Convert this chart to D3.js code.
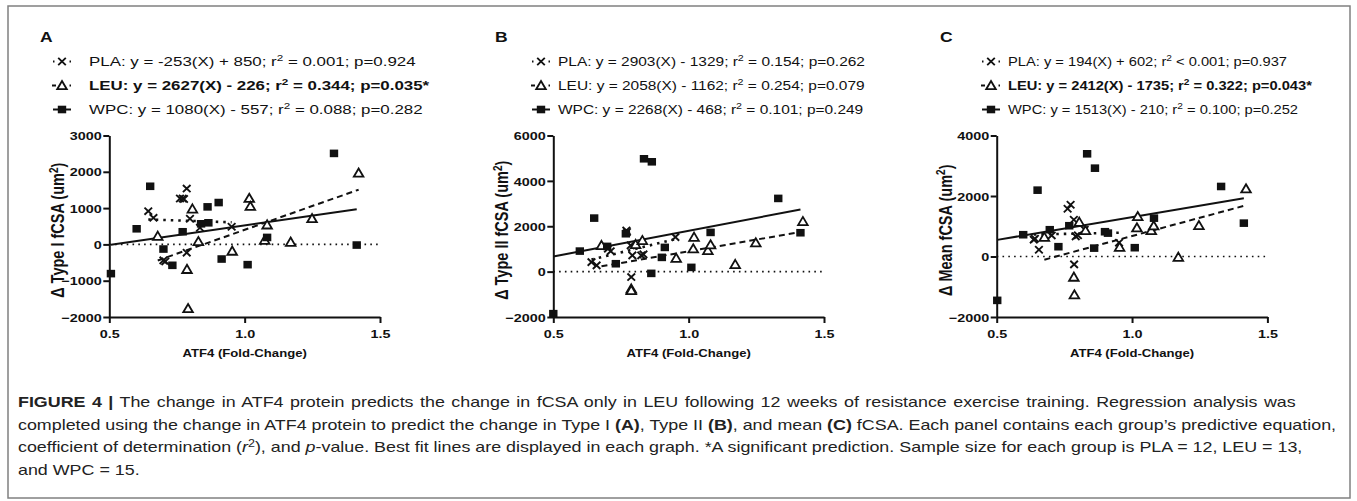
<!DOCTYPE html>
<html>
<head>
<meta charset="utf-8">
<script src="https://cdn.jsdelivr.net/npm/d3@7"></script>
<style>
  body { margin: 0; background: #fff; }
  svg { display: block; }
</style>
</head>
<body>
<div id="fig"></div>
<script>
const width = 1357;
const height = 501;

// ---- data ----
const groups = ["PLA", "LEU", "WPC"];
const panelLetters = ["A", "B", "C"];
const yLabelNames = ["\u0394 Type I fCSA (um", "\u0394 Type II fCSA (um", "\u0394 Mean fCSA (um"];
const xLabel = "ATF4 (Fold-Change)";
const xTicks = [0.5, 1.0, 1.5];
const yDomains = [[-2000, 3000], [-2000, 6000], [-2000, 4000]];
const yTicks = [
  [-2000, -1000, 0, 1000, 2000, 3000],
  [-2000, 0, 2000, 4000, 6000],
  [-2000, 0, 2000, 4000]
];

const plaA = [[0.644, 915], [0.663, 733], [0.700, -440], [0.707, -470], [0.761, 1264], [0.771, 1264],
  [0.776, 1250], [0.786, 1538], [0.786, -228], [0.798, 706], [0.835, 459], [0.952, 486]];
const leuA = [[0.679, 229], [0.787, -686], [0.791, -1766], [0.807, 979], [0.829, 82], [0.954, -183],
  [1.017, 1272], [1.021, 1052], [1.074, 119], [1.083, 540], [1.170, 64], [1.249, 714], [1.421, 1967]];
const wpcA = [[0.506, -805], [0.601, 430], [0.651, 1601], [0.700, -128], [0.733, -576], [0.771, 348],
  [0.839, 567], [0.863, 1034], [0.866, 595], [0.904, 1153], [0.915, -403], [1.011, -558], [1.083, 192],
  [1.330, 2507], [1.414, -18]];

const plaB = [[0.641, 420], [0.660, 275], [0.702, 1010], [0.712, 900], [0.770, 1816], [0.772, 1750],
  [0.786, 1156], [0.788, -240], [0.792, 716], [0.825, 716], [0.833, 760], [0.951, 1522]];
const leuB = [[0.678, 1156], [0.788, -760], [0.788, -826], [0.804, 1200], [0.829, 1376], [0.954, 597],
  [1.017, 1010], [1.020, 1522], [1.071, 936], [1.081, 1186], [1.172, 319], [1.248, 1275], [1.422, 2213]];
const wpcB = [[0.500, -1853], [0.598, 905], [0.651, 2359], [0.699, 1112], [0.731, 348], [0.768, 1670],
  [0.835, 4974], [0.862, -77], [0.864, 4841], [0.901, 628], [0.912, 1068], [1.010, 187], [1.081, 1729],
  [1.331, 3227], [1.413, 1714]];

const plaC = [[0.637, 555], [0.641, 588], [0.656, 224], [0.703, 697], [0.762, 1578], [0.773, 1710],
  [0.785, 1215], [0.786, -261], [0.792, 664], [0.800, 700], [0.825, 885], [0.952, 456]];
const leuC = [[0.676, 641], [0.785, -680], [0.787, -1262], [0.805, 1136], [0.828, 862], [0.954, 310],
  [1.018, 951], [1.021, 1324], [1.071, 862], [1.080, 1017], [1.171, -20], [1.247, 1027], [1.421, 2239]];
const wpcC = [[0.502, -1450], [0.598, 720], [0.651, 2193], [0.696, 885], [0.728, 324], [0.768, 1017],
  [0.834, 3395], [0.860, 277], [0.863, 2920], [0.900, 819], [0.911, 773], [1.010, 291], [1.081, 1268],
  [1.329, 2315], [1.413, 1103]];

// best fit lines as drawn: [slope, intercept] for PLA, LEU, WPC
const fitsA = [[-253, 850], [2627, -2226], [1080, -557]];
const fitsB = [[2903, -1329], [2058, -1162], [2268, -468]];
const fitsC = [[194, 602], [2412, -1735], [1513, -210]];

const legendA = ["PLA: y = -253(X) + 850; r^2 = 0.001; p=0.924",
  "LEU: y = 2627(X) - 226; r^2 = 0.344; p=0.035*",
  "WPC: y = 1080(X) - 557; r^2 = 0.088; p=0.282"];
const legendB = ["PLA: y = 2903(X) - 1329; r^2 = 0.154; p=0.262",
  "LEU: y = 2058(X) - 1162; r^2 = 0.254; p=0.079",
  "WPC: y = 2268(X) - 468; r^2 = 0.101; p=0.249"];
const legendC = ["PLA: y = 194(X) + 602; r^2 < 0.001; p=0.937",
  "LEU: y = 2412(X) - 1735; r^2 = 0.322; p=0.043*",
  "WPC: y = 1513(X) - 210; r^2 = 0.100; p=0.252"];
const legendBold = [[false, true, false], [false, false, false], [false, true, false]];

const captionLines = [
  [["FIGURE 4 |", "b"], [" The change in ATF4 protein predicts the change in fCSA only in LEU following 12 weeks of resistance exercise training. Regression analysis was", ""]],
  [["completed using the change in ATF4 protein to predict the change in Type I ", ""], ["(A)", "b"], [", Type II ", ""], ["(B)", "b"],
   [", and mean ", ""], ["(C)", "b"], [" fCSA. Each panel contains each group\u2019s predictive equation,", ""]],
  [["coefficient of determination (", ""], ["r", "i"], ["2", "sup"], ["), and ", ""], ["p", "i"],
   ["-value. Best fit lines are displayed in each graph. *A significant prediction. Sample size for each group is PLA = 12, LEU = 13,", ""]],
  [["and WPC = 15.", ""]]
];

const panels = [
  { series: [plaA, leuA, wpcA], fits: fitsA, legend: legendA },
  { series: [plaB, leuB, wpcB], fits: fitsB, legend: legendB },
  { series: [plaC, leuC, wpcC], fits: fitsC, legend: legendC }
];

// ---- layout ----
const SX = 1.25; // the reference figure is stretched horizontally
const legendSX = [1.30, 1.19, 1.13];
const font = "'Liberation Sans', Arial, sans-serif";
const plotTop = 135.5, plotBottom = 317;
const plotLeft = [109.3, 553.3, 996.7];
const plotWidth = 270.7;
const letterX = [40, 495, 940];
const legendTextX = [89, 558, 1008];
const legendSymX = [62, 541, 991];
const legendRowY = [66, 90, 114];

const lineDash = ["2.5,5", "6,4", null];
const lineWidth = [2.6, 2, 2];

const svg = d3.select("#fig").append("svg")
  .attr("width", width)
  .attr("height", height)
  .style("font-family", font);

svg.append("rect")
  .attr("x", 8).attr("y", 6)
  .attr("width", 1342).attr("height", 492)
  .attr("fill", "none")
  .attr("stroke", "#808080")
  .attr("stroke-width", 1.5);

function stretched(parent, x, y, sx) {
  return parent.append("g")
    .attr("transform", "translate(" + x + "," + y + ") scale(" + (sx || SX) + ",1)")
    .append("text");
}

function drawMarker(sel, k) {
  if (k === 2) {
    sel.append("path").attr("d", "M-4.2,-3.8h8.4v7.6h-8.4z").attr("fill", "#111");
  } else if (k === 1) {
    sel.append("path").attr("d", "M0,-4.5L4.8,3.7L-4.8,3.7Z")
      .attr("fill", "#fff").attr("stroke", "#111").attr("stroke-width", 1.8)
      .attr("stroke-linejoin", "miter");
  } else {
    sel.append("path").attr("d", "M-3.8,-3.6L3.8,3.6M-3.8,3.6L3.8,-3.6")
      .attr("fill", "none").attr("stroke", "#111").attr("stroke-width", 1.9);
  }
}

function addLegendText(textSel, str, bold) {
  const parts = str.split("^2");
  textSel.attr("font-size", 13).attr("font-weight", bold ? "bold" : "normal").attr("fill", "#111");
  textSel.append("tspan").text(parts[0]);
  textSel.append("tspan").attr("dy", -5).attr("font-size", 9).text("2");
  textSel.append("tspan").attr("dy", 5).text(parts[1]);
}

panels.forEach(function(p, i) {
  const x = d3.scaleLinear().domain([0.5, 1.5]).range([plotLeft[i], plotLeft[i] + plotWidth]);
  const y = d3.scaleLinear().domain(yDomains[i]).range([plotBottom, plotTop]);

  // panel letter
  stretched(svg, letterX[i], 42)
    .attr("font-size", 14).attr("font-weight", "bold").attr("fill", "#111")
    .text(panelLetters[i]);

  // legend
  p.legend.forEach(function(str, k) {
    const ly = legendRowY[k] - 4.5;
    const sg = svg.append("g").attr("transform", "translate(" + legendSymX[i] + "," + ly + ")");
    if (k === 2) {
      sg.append("line").attr("x1", -9).attr("x2", 9).attr("stroke", "#111").attr("stroke-width", 2);
    } else {
      sg.append("line").attr("x1", k === 1 ? -10 : -9).attr("x2", k === 1 ? -6 : -7.5)
        .attr("stroke", "#111").attr("stroke-width", 2);
      sg.append("line").attr("x1", 7.5).attr("x2", 9)
        .attr("stroke", "#111").attr("stroke-width", 2);
    }
    drawMarker(sg, k);
    addLegendText(stretched(svg, legendTextX[i], legendRowY[k], legendSX[i]), str, legendBold[i][k]);
  });

  const g = svg.append("g");

  // zero reference line
  g.append("line")
    .attr("x1", x(0.5)).attr("x2", x(1.5))
    .attr("y1", y(0)).attr("y2", y(0))
    .attr("stroke", "#111").attr("stroke-width", 1.6)
    .attr("stroke-dasharray", "1.6,4.2");

  // best fit lines over each group's x range
  p.series.forEach(function(s, k) {
    const ext = d3.extent(s, function(d) { return d[0]; });
    const f = p.fits[k];
    g.append("line")
      .attr("x1", x(ext[0])).attr("x2", x(ext[1]))
      .attr("y1", y(f[0] * ext[0] + f[1])).attr("y2", y(f[0] * ext[1] + f[1]))
      .attr("stroke", "#111")
      .attr("stroke-width", lineWidth[k])
      .attr("stroke-dasharray", lineDash[k]);
  });

  // points
  p.series.forEach(function(s, k) {
    g.selectAll(null)
      .data(s)
      .enter()
      .append("g")
      .attr("transform", function(d) { return "translate(" + x(d[0]) + "," + y(d[1]) + ")"; })
      .each(function() { drawMarker(d3.select(this), k); });
  });

  // axes
  const yAxis = g.append("g")
    .attr("transform", "translate(" + plotLeft[i] + ",0)")
    .call(d3.axisLeft(y).tickValues(yTicks[i]).tickSize(6).tickSizeOuter(0).tickPadding(0)
      .tickFormat(d3.format("d")));
  const xAxis = g.append("g")
    .attr("transform", "translate(0," + plotBottom + ")")
    .call(d3.axisBottom(x).tickValues(xTicks).tickSize(6).tickSizeOuter(0).tickPadding(7)
      .tickFormat(d3.format(".1f")));

  [yAxis, xAxis].forEach(function(ax) {
    ax.select(".domain").attr("stroke", "#111").attr("stroke-width", 2);
    ax.selectAll(".tick line").attr("stroke", "#111").attr("stroke-width", 2);
    ax.selectAll(".tick text")
      .attr("fill", "#111")
      .style("font-family", font)
      .style("font-size", "11.5px")
      .style("font-weight", "bold");
  });
  yAxis.selectAll(".tick text").attr("transform", "scale(" + SX + ",1)").attr("dy", "0.36em");
  xAxis.selectAll(".tick text").attr("transform", "scale(" + SX + ",1)");

  // axis titles
  stretched(svg, plotLeft[i] + plotWidth / 2, 357)
    .attr("text-anchor", "middle")
    .attr("font-size", 10.5).attr("font-weight", "bold").attr("fill", "#111")
    .text(xLabel);

  const yl = svg.append("g")
    .attr("transform", "translate(" + (plotLeft[i] - 45) + "," + ((plotTop + plotBottom) / 2 + 4) + ") rotate(-90) scale(1," + SX + ")")
    .append("text")
    .attr("text-anchor", "middle")
    .attr("font-size", 14.5).attr("font-weight", "bold").attr("fill", "#111");
  yl.append("tspan").text(yLabelNames[i]);
  yl.append("tspan").attr("dy", -5).attr("font-size", 10).text("2");
  yl.append("tspan").attr("dy", 5).text(")");
});

// caption
const capBase = [407, 430, 452, 475];
captionLines.forEach(function(line, r) {
  const t = stretched(svg, 18, capBase[r])
    .attr("font-size", 14.3).attr("fill", "#222");
  if (r === 0) t.attr("word-spacing", 1.2);
  line.forEach(function(seg) {
    const ts = t.append("tspan").text(seg[0]);
    if (seg[1] === "b") ts.attr("font-weight", "bold");
    if (seg[1] === "i") ts.attr("font-style", "italic");
    if (seg[1] === "sup") ts.attr("dy", -5).attr("font-size", 10);
  });
  // undo superscript shift for the rest of the line
  t.selectAll("tspan").each(function(d, j) {
    if (j > 0 && line[j - 1][1] === "sup") d3.select(this).attr("dy", 5);
  });
});
</script>
</body>
</html>
